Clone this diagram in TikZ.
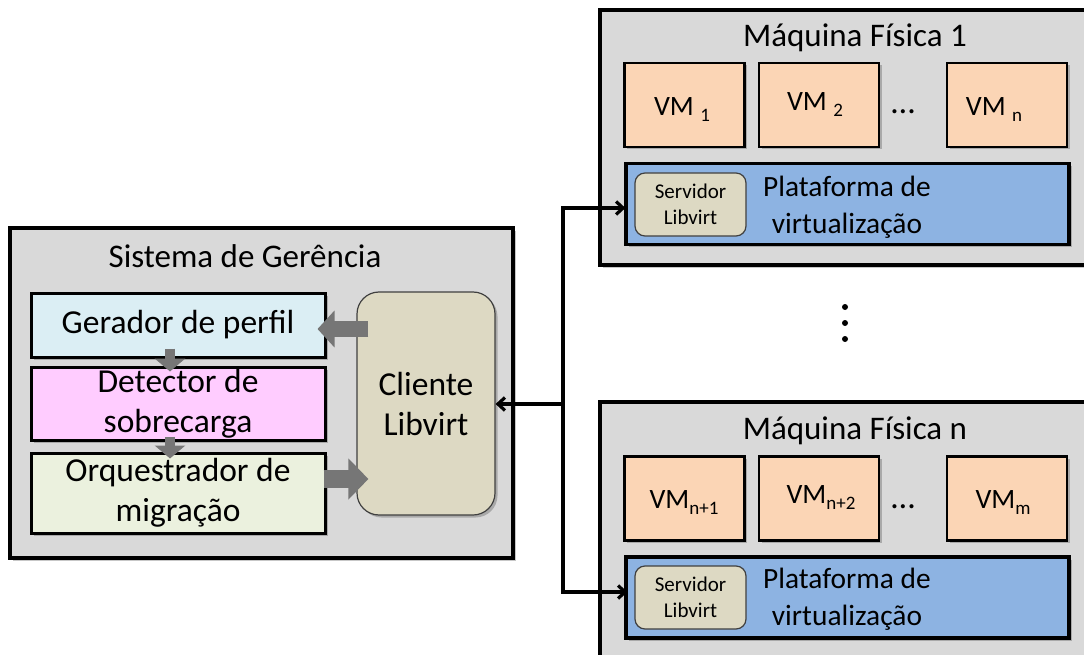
\documentclass[tikz,border=0pt]{standalone}
\usepackage{fontspec}
\setmainfont{Carlito}
\usetikzlibrary{arrows.meta,calc,shadows}

\definecolor{panelgray}{HTML}{D9D9D9}
\definecolor{gerfill}{HTML}{DBEEF4}
\definecolor{detfill}{HTML}{FFCCFF}
\definecolor{orqfill}{HTML}{EBF1DE}
\definecolor{libfill}{HTML}{DDD9C3}
\definecolor{vmfill}{HTML}{FBD5B5}
\definecolor{platfill}{HTML}{8DB3E2}
\definecolor{fatgray}{HTML}{767676}
\definecolor{fatedge}{HTML}{5A5A5A}

\newcommand{\vmsub}[1]{\raisebox{-6pt}{\fontsize{19}{19}\selectfont #1}}

\begin{document}
\begin{tikzpicture}[x=1pt,y=-1pt,
  shadowed/.style={drop shadow={shadow xshift=2.5pt,shadow yshift=-2.5pt,opacity=0.22,fill=black}},
  panel/.style={rectangle,draw=black,line width=3.4pt,fill=panelgray,inner sep=0pt,shadowed},
  modbox/.style={rectangle,draw=black,line width=3pt,inner sep=0pt,align=center,
    minimum width=294pt,font=\fontsize{33.5}{40}\selectfont,shadowed},
  vmbox/.style={rectangle,draw=black,line width=2.8pt,fill=vmfill,inner sep=0pt,
    minimum width=120pt,minimum height=84pt,shadowed},
  vmtext/.style={font=\fontsize{28}{30}\selectfont,inner sep=0pt},
  dotstext/.style={font=\fontsize{34}{34}\selectfont,inner sep=0pt,anchor=base},
  platbox/.style={rectangle,draw=black,line width=3.4pt,fill=platfill,inner sep=0pt,
    minimum width=443pt,minimum height=81pt,shadowed},
  srvbox/.style={rectangle,rounded corners=10pt,draw=black!75,line width=1.2pt,fill=libfill,
    inner sep=0pt,minimum width=111pt,minimum height=63pt,align=center,
    font=\fontsize{21}{26}\selectfont},
  titletext/.style={font=\fontsize{33}{36}\selectfont,inner sep=0pt},
  plattext/.style={font=\fontsize{29.4}{37}\selectfont,align=center,inner sep=0pt},
  conn/.style={draw=black,line width=3.2pt,-{Straight Barb[length=7pt,width=13pt]}},
  fatside/.style={draw=fatgray,line width=16pt,-{Triangle[length=17pt,width=36pt]}},
  fatdown/.style={draw=fatgray,line width=10pt,-{Triangle[length=13pt,width=30pt]}}]

\useasboundingbox (0,0) rectangle (1084,655);
\clip (0,0) rectangle (1084,655);

% management system
\node[panel,minimum width=503pt,minimum height=330pt] (sistema) at (261.5,393) {};
\node[titletext] (sistitle) at (245,256) {Sistema de Gerência};
\node[modbox,fill=gerfill,minimum height=64pt] (gerador) at (178,325) {Gerador de perfil};
\node[modbox,fill=detfill,minimum height=73pt] (detector) at (178,403.5) {Detector de\\sobrecarga};
\node[modbox,fill=orqfill,minimum height=80pt] (orq) at (178,493) {Orquestrador de\\migração};
\node[rectangle,rounded corners=22pt,draw=black!75,line width=1.2pt,fill=libfill,
  minimum width=138pt,minimum height=223pt,align=center,inner sep=0pt,
  font=\fontsize{33.5}{40}\selectfont,shadowed] (cliente) at (426,403.5) {Cliente\\Libvirt};

% internal flow
\draw[fatdown] ($(gerador.south)+(-8,-10)$) -- ($(detector.north)+(-8,6)$);
\draw[fatdown] ($(detector.south)+(-8,-5)$) -- ($(orq.north)+(-8,7)$);
\draw[fatside] ($(cliente.west |- gerador.east)+(12,4)$) -- ($(gerador.east)+(-9,4)$);
\draw[fatside,line width=18pt,-{Triangle[length=20pt,width=40pt]}]
  ($(orq.east)+(-3,-14)$) -- ($(cliente.west |- orq.east)+(12,-14)$);

% physical machine 1
\node[panel,minimum width=500pt,minimum height=255pt] (maq1) at (850,137.5) {};
\node[titletext] (maq1title) at (855,38) {Máquina Física 1};
\node[vmbox] (vm1) at (684.5,105) {};
\node[vmtext] at (682,110) {VM \vmsub{1}};
\node[vmbox] (vm2) at (819,105) {};
\node[vmtext] at (815,105) {VM \vmsub{2}};
\node[dotstext] (dots1) at (903,114) {…};
\node[vmbox] (vmn) at (1007,105) {};
\node[vmtext] at (994,110) {VM \vmsub{n}};
\node[platbox] (plat1) at (847.5,204) {};
\node[srvbox] (serv1) at (690.5,204.5) {Servidor\\Libvirt};
\node[plattext] (plat1txt) at (847,207) {Plataforma de\\virtualização};

% physical machine n
\node[panel,minimum width=500pt,minimum height=290pt] (maqn) at (850,547) {};
\node[titletext] (maqntitle) at (855,431) {Máquina Física n};
\node[vmbox] (vmn1) at (684.5,498.5) {};
\node[vmtext] at (684,503) {VM\vmsub{n+1}};
\node[vmbox] (vmn2) at (819,498.5) {};
\node[vmtext] at (821,498) {VM\vmsub{n+2}};
\node[dotstext] (dotsn) at (903,508) {…};
\node[vmbox] (vmm) at (1007,498.5) {};
\node[vmtext] at (1003,503) {VM\vmsub{m}};
\node[platbox] (platn) at (847.5,597.5) {};
\node[srvbox] (servn) at (690.5,597.5) {Servidor\\Libvirt};
\node[plattext] (platntxt) at (847,599) {Plataforma de\\virtualização};

% machines in between
\foreach \yy in {307,323,339} \fill (845,\yy) circle (3pt);

% libvirt connections
\coordinate (jn) at (563,404);
\draw[conn] (jn) -- (cliente.east |- jn);
\draw[conn] (jn) |- ($(serv1.west)+(-9,3.5)$);
\draw[conn] (jn) |- ($(servn.west)+(-7,-5.5)$);
\end{tikzpicture}
\end{document}
